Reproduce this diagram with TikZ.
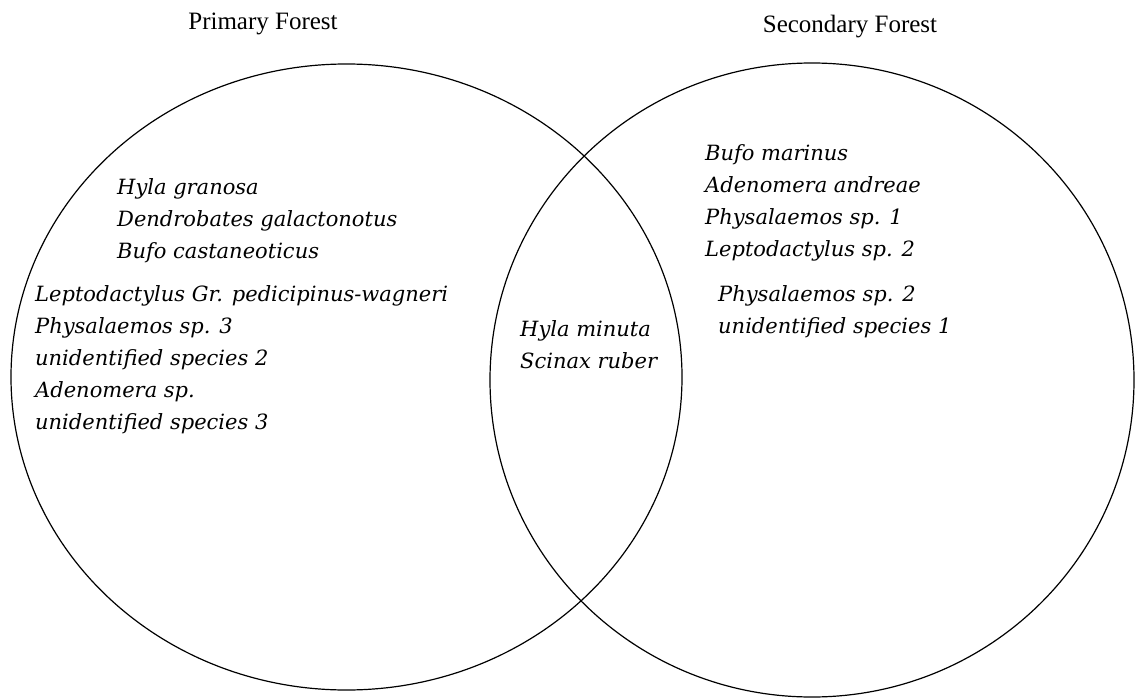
\documentclass[tikz,border=0pt]{standalone}
\usepackage{fontspec}
\setmainfont{Liberation Serif}
\newfontfamily\spfont{DejaVu Serif}
\begin{document}
\begin{tikzpicture}[x=1pt,y=-1pt,
  setline/.style={draw=black,line width=1.2pt},
  title/.style={font=\fontsize{25}{30}\selectfont,inner sep=0pt,anchor=base},
  species/.style={font=\spfont\itshape\fontsize{21}{32}\selectfont,align=left,inner sep=0pt,anchor=base west}]
\useasboundingbox (0,0) rectangle (1135,698);
\draw[setline] (346.5,377) ellipse [x radius=335.5, y radius=313];
\draw[setline] (812,380) ellipse [x radius=322, y radius=317];
\node[title] (tp) at (263,29.5) {Primary Forest};
\node[title] (ts) at (850,33) {Secondary Forest};
% anchors are the baselines of the last lines
\node[species] (l1) at (117,258) {Hyla granosa\\Dendrobates galactonotus\\Bufo castaneoticus};
\node[species] (l2) at (35,429) {Leptodactylus Gr. pedicipinus-wagneri\\Physalaemos sp. 3\\unidentified species 2\\Adenomera sp.\\unidentified species 3};
\node[species] (c) at (520,368) {Hyla minuta\\Scinax ruber};
\node[species] (r1) at (705,256) {Bufo marinus\\Adenomera andreae\\Physalaemos sp. 1\\Leptodactylus sp. 2};
\node[species] (r2) at (718,333) {Physalaemos sp. 2\\unidentified species 1};
\end{tikzpicture}
\end{document}
